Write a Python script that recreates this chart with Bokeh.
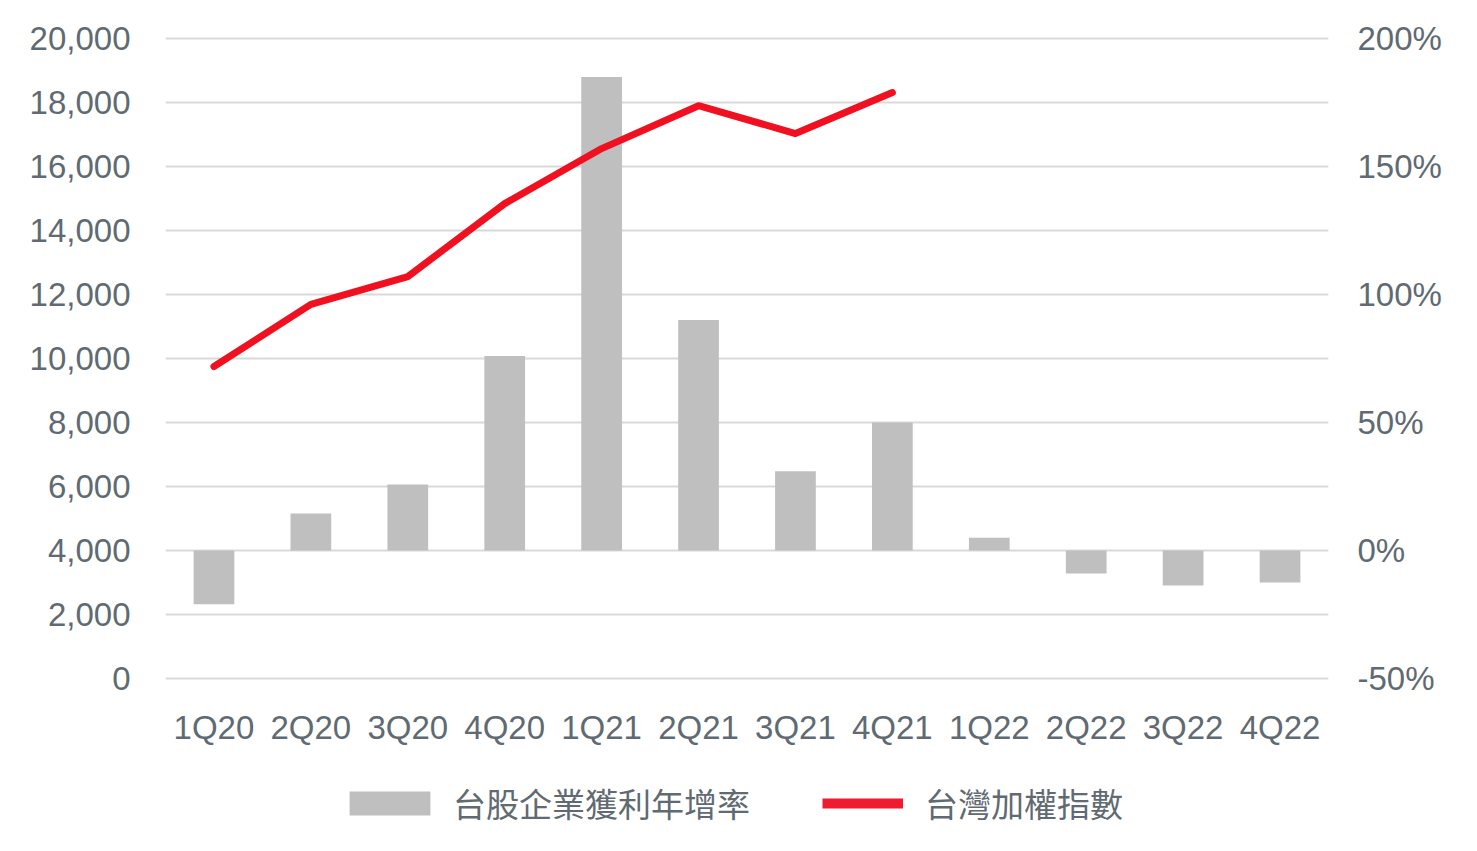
from bokeh.plotting import figure
from bokeh.layouts import column
from bokeh.models import (ColumnDataSource, Range1d, LinearAxis, FixedTicker,
                          Legend, LegendItem, CustomJSTickFormatter, NumeralTickFormatter, FactorRange)
from bokeh.embed import file_html
from bokeh.resources import INLINE

quarters = ["1Q20", "2Q20", "3Q20", "4Q20", "1Q21", "2Q21", "3Q21", "4Q21",
            "1Q22", "2Q22", "3Q22", "4Q22"]
growth_pct = [-21, 14.5, 25.8, 76, 185, 90, 31, 50, 5, -9, -13.7, -12.5]
index_quarters = ["1Q20", "2Q20", "3Q20", "4Q20", "1Q21", "2Q21", "3Q21", "4Q21"]
index_values = [9750, 11690, 12560, 14840, 16560, 17900, 17030, 18310]
left_ticks = [0, 2000, 4000, 6000, 8000, 10000, 12000, 14000, 16000, 18000, 20000]
right_ticks = [-50, 0, 50, 100, 150, 200]
bar_label = "台股企業獲利年增率"
line_label = "台灣加權指數"

TXT = "#5f6a72"
GRID = "#d9d9d9"
FONT = "Liberation Sans"
FS = "33px"
BAR_C = "#bfbfbf"
LINE_C = "#f01020"

p = figure(frame_width=1163, frame_height=660, x_range=FactorRange(*quarters),
           y_range=Range1d(-312.5, 20312.5), output_backend="svg",
           toolbar_location=None, min_border_left=165, min_border_right=130,
           min_border_top=28, min_border_bottom=80)
p.extra_y_ranges = {"pct": Range1d((-312.5 - 4000) / 80, (20312.5 - 4000) / 80)}
p.outline_line_color = None
p.background_fill_color = "white"

bars = ColumnDataSource(dict(q=quarters, v=growth_pct))
line = ColumnDataSource(dict(q=index_quarters, v=index_values))

p.vbar(x="q", top="v", bottom=0, width=0.42, source=bars, y_range_name="pct",
       fill_color=BAR_C, line_color=None)
p.line(x="q", y="v", source=line, line_color=LINE_C, line_width=7,
       line_cap="round", line_join="round")

# grid
p.xgrid.grid_line_color = None
p.ygrid.ticker = FixedTicker(ticks=left_ticks)
p.ygrid.grid_line_color = GRID
p.ygrid.grid_line_width = 2

# left axis
ya = p.yaxis[0]
ya.ticker = FixedTicker(ticks=left_ticks)
ya.formatter = NumeralTickFormatter(format="0,0")
ya.axis_line_color = None
ya.major_tick_line_color = None
ya.minor_tick_line_color = None
ya.major_tick_out = 0
ya.major_label_standoff = 35
ya.major_label_text_font = FONT
ya.major_label_text_font_size = FS
ya.major_label_text_color = TXT

# right axis
ra = LinearAxis(y_range_name="pct", ticker=FixedTicker(ticks=right_ticks),
                formatter=CustomJSTickFormatter(code="return tick + '%';"))
ra.axis_line_color = None
ra.major_tick_line_color = None
ra.minor_tick_line_color = None
ra.major_tick_out = 0
ra.major_label_standoff = 29
ra.major_label_text_font = FONT
ra.major_label_text_font_size = FS
ra.major_label_text_color = TXT
p.add_layout(ra, "right")

# x axis
xa = p.xaxis[0]
xa.axis_line_color = None
xa.major_tick_line_color = None
xa.minor_tick_line_color = None
xa.major_tick_out = 0
xa.major_label_standoff = 20
xa.major_label_text_font = FONT
xa.major_label_text_font_size = FS
xa.major_label_text_color = TXT

# legend strip
p2 = figure(width=1458, height=80, x_range=Range1d(0, 1), y_range=Range1d(0, 1),
            output_backend="svg", toolbar_location=None, x_axis_type=None,
            y_axis_type=None, min_border=0)
p2.outline_line_color = None
p2.xgrid.grid_line_color = None
p2.ygrid.grid_line_color = None
nan = float("nan")
lbar = p2.vbar(x=[nan], top=[nan], bottom=[nan], width=0.4,
               fill_color=BAR_C, line_color=None)
lline = p2.line(x=[nan], y=[nan], line_color="#ee1c2e", line_width=10)

common = dict(orientation="horizontal", label_text_font="Noto Sans CJK TC",
              label_text_font_size=FS, label_text_color=TXT, border_line_color=None,
              background_fill_alpha=0, padding=0, margin=0)
leg1 = Legend(items=[LegendItem(label=bar_label, renderers=[lbar])],
              location=(174, 21), glyph_width=101, glyph_height=30,
              label_standoff=13, **common)
leg2 = Legend(items=[LegendItem(label=line_label, renderers=[lline])],
              location=(657, 21), glyph_width=81, glyph_height=24,
              label_standoff=22, **common)
p2.add_layout(leg1, "center")
p2.add_layout(leg2, "center")

layout = column(p, p2, spacing=0)
open("out.html", "w").write(file_html(layout, INLINE))
